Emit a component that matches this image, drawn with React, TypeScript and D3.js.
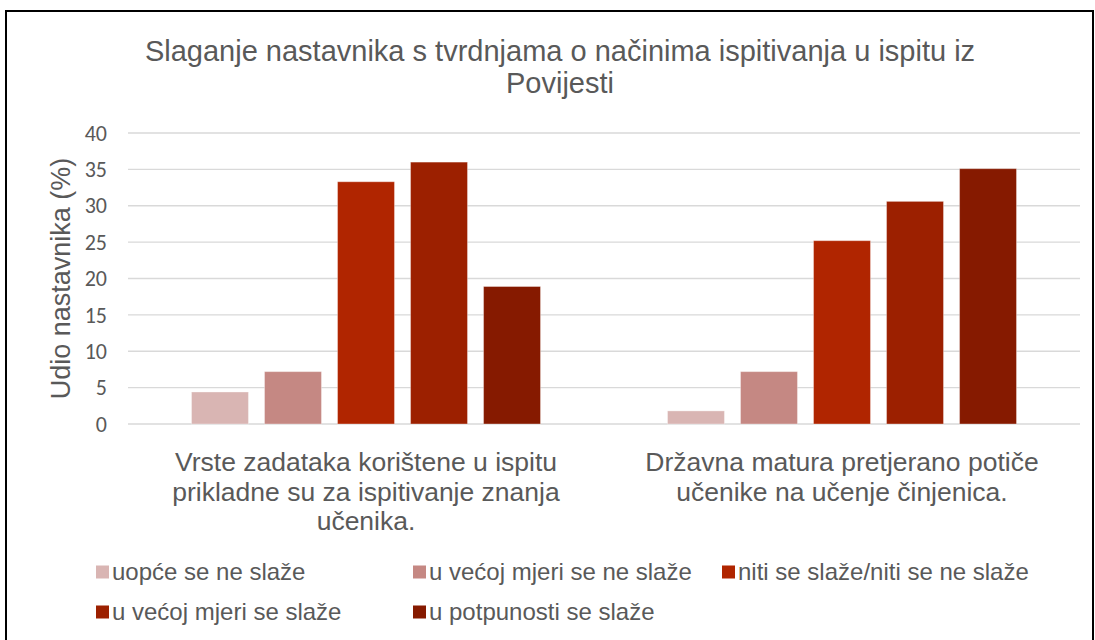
import React from "react";
import * as d3 from "d3";

const categories = [
  ["Vrste zadataka korištene u ispitu", "prikladne su za ispitivanje znanja", "učenika."],
  ["Državna matura pretjerano potiče", "učenike na učenje činjenica."],
];
const seriesNames = [
  "uopće se ne slaže",
  "u većoj mjeri se ne slaže",
  "niti se slaže/niti se ne slaže",
  "u većoj mjeri se slaže",
  "u potpunosti se slaže",
];
const seriesColors = ["#D9B5B3", "#C58883", "#B02500", "#9C2000", "#861A00"];
const values: number[][] = [
  [4.4, 7.2, 33.3, 36.0, 18.9],
  [1.8, 7.2, 25.2, 30.6, 35.1],
];
const yTicks = [0, 5, 10, 15, 20, 25, 30, 35, 40];

export default function App() {
  const W = 1095, H = 640;
  const left = 128, right = 1080, top = 133, bottom = 424;
  const catIdx = categories.map((_, i) => String(i));
  const x0 = d3.scaleBand<string>().domain(catIdx).range([left, right]).padding(0);
  const bw0 = x0.bandwidth();
  const x1 = d3
    .scaleBand<string>()
    .domain(seriesNames)
    .range([63.5, bw0 - 63.5])
    .paddingInner(0.22)
    .paddingOuter(0);
  const y = d3.scaleLinear().domain([0, 40]).range([bottom, top]);
  const font = "'Liberation Sans', Arial, sans-serif";
  const tickFont = "Carlito, Lato, 'Open Sans', sans-serif";
  const gray = "#595959";

  const legendPos = [
    [96, 572],
    [413, 572],
    [722, 572],
    [96, 612],
    [413, 612],
  ];

  return (
    <svg
      width={W}
      height={H}
      style={{ position: "absolute", left: 0, top: 0, background: "#fff" }}
    >
      <rect x={0} y={0} width={W} height={H} fill="#fff" />
      <rect x={6} y={11} width={1087} height={700} fill="#fff" stroke="#000" strokeWidth={2} />
      <text textAnchor="middle" fill={gray} fontFamily={font} fontSize={29}>
        <tspan x={560} y={61}>
          Slaganje nastavnika s tvrdnjama o načinima ispitivanja u ispitu iz
        </tspan>
        <tspan x={560} y={93}>Povijesti</tspan>
      </text>
      {yTicks.map((t) => (
        <g key={t}>
          <line x1={left} x2={right} y1={y(t)} y2={y(t)} stroke="#D9D9D9" strokeWidth={1.3} />
          <text
            x={107}
            y={y(t)}
            dy="0.35em"
            textAnchor="end"
            fill={gray}
            fontFamily={tickFont}
            fontSize={22}
          >
            {t}
          </text>
        </g>
      ))}
      <text
        transform={`translate(70,${(top + bottom) / 2}) rotate(-90)`}
        textAnchor="middle"
        fill={gray}
        fontFamily={font}
        fontSize={27}
      >
        Udio nastavnika (%)
      </text>
      {values.map((row, ci) =>
        row.map((v, si) => (
          <rect
            key={`${ci}-${si}`}
            x={(x0(String(ci)) as number) + (x1(seriesNames[si]) as number)}
            y={y(v)}
            width={x1.bandwidth()}
            height={y(0) - y(v)}
            fill={seriesColors[si]}
            stroke="#ffffff"
            strokeOpacity={0.35}
            strokeWidth={1}
          />
        ))
      )}
      {categories.map((lines, ci) => (
        <text
          key={ci}
          textAnchor="middle"
          fill={gray}
          fontFamily={font}
          fontSize={26.5}
        >
          {lines.map((l, li) => (
            <tspan key={li} x={(x0(String(ci)) as number) + bw0 / 2} y={471 + li * 29.5}>
              {l}
            </tspan>
          ))}
        </text>
      ))}
      {seriesNames.map((s, i) => (
        <g key={s}>
          <rect
            x={legendPos[i][0]}
            y={legendPos[i][1] - 6.5}
            width={13}
            height={13}
            fill={seriesColors[i]}
          />
          <text
            x={legendPos[i][0] + 16}
            y={legendPos[i][1]}
            dy="0.35em"
            fill={gray}
            fontFamily={font}
            fontSize={24}
          >
            {s}
          </text>
        </g>
      ))}
    </svg>
  );
}
